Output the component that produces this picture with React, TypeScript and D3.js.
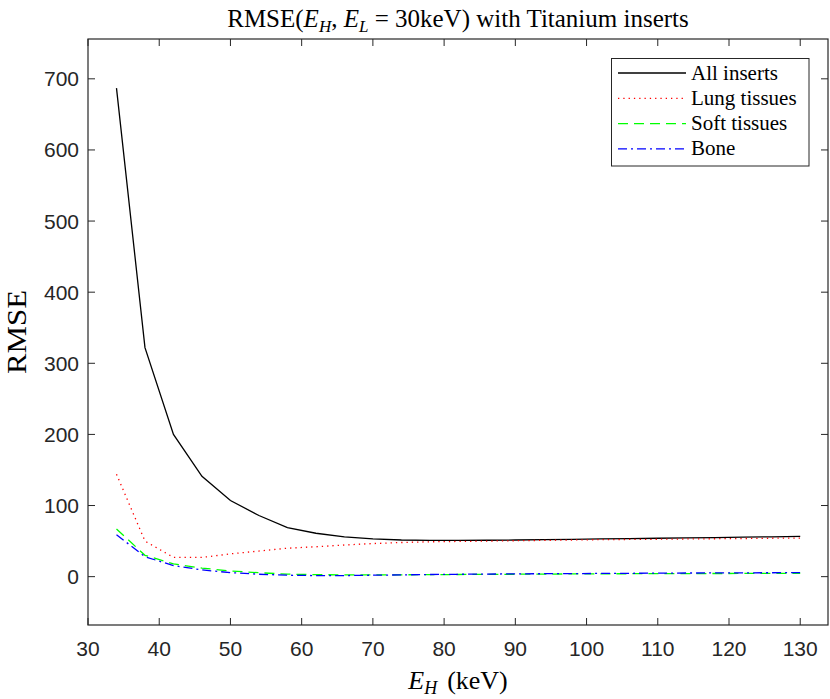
import * as d3 from "d3";

const energies = [34, 38, 42, 46, 50, 54, 58, 62, 66, 70, 74, 78, 82, 86, 90, 94, 98, 102, 106, 110, 114, 118, 122, 126, 130];
const allInserts = [687, 322, 200, 141, 107, 86, 69, 61, 56, 53, 51.5, 51, 51, 51.2, 51.5, 52, 52.5, 53, 53.5, 54, 54.5, 55, 55.5, 56, 56.5];
const lungTissues = [144, 50, 27, 27, 32, 36, 40, 42, 44.5, 46.5, 48, 49, 49.5, 50, 50.5, 51, 51.5, 52, 52.3, 52.6, 53, 53.3, 53.6, 54, 54.3];
const softTissues = [67, 30, 18, 12, 8, 5.5, 3.5, 2.8, 2.5, 2.5, 2.6, 2.8, 3, 3.2, 3.4, 3.6, 3.8, 4, 4.1, 4.2, 4.3, 4.4, 4.5, 4.6, 4.8];
const bone = [59, 28, 15.5, 9.5, 5.6, 3.4, 2, 1.5, 1.5, 2, 2.5, 3, 3.3, 3.6, 3.9, 4.1, 4.3, 4.5, 4.7, 4.9, 5.1, 5.2, 5.4, 5.5, 5.6];

const xTicks = [30, 40, 50, 60, 70, 80, 90, 100, 110, 120, 130];
const yTicks = [0, 100, 200, 300, 400, 500, 600, 700];

const series = [
  { name: "All inserts", values: allInserts, color: "#000000", dash: "none" },
  { name: "Lung tissues", values: lungTissues, color: "#ff0000", dash: "1.3,4" },
  { name: "Soft tissues", values: softTissues, color: "#00ff00", dash: "10,6" },
  { name: "Bone", values: bone, color: "#0000ff", dash: "9,4,2,4" },
];

const W = 830;
const H = 699;
const left = 88;
const right = 828;
const top = 39;
const bottom = 625;
const axisColor = "#262626";
const sans = "'Liberation Sans', Arial, sans-serif";
const serif = "'Liberation Serif', 'DejaVu Serif', serif";

export default function App() {
  const x = d3.scaleLinear().domain([30, 133.9]).range([left, right]);
  const y = d3.scaleLinear().domain([-68, 756]).range([bottom, top]);
  const line = d3
    .line<[number, number]>()
    .x((d) => x(d[0]))
    .y((d) => y(d[1]));
  const tick = 7;

  return (
    <svg
      width={W}
      height={H}
      viewBox={`0 0 ${W} ${H}`}
      style={{ position: "absolute", left: 0, top: 0, background: "#fff" }}
    >
      <rect x={0} y={0} width={W} height={H} fill="#fff" />
      {/* title */}
      <text x={(left + right) / 2} y={27} textAnchor="middle" fontFamily={serif} fontSize={25} fill="#000">
        RMSE(<tspan fontStyle="italic">E</tspan>
        <tspan fontStyle="italic" fontSize={17} dy={5}>H</tspan>
        <tspan dy={-5}>, </tspan>
        <tspan fontStyle="italic">E</tspan>
        <tspan fontStyle="italic" fontSize={17} dy={5}>L</tspan>
        <tspan dy={-5}> = 30keV) with Titanium inserts</tspan>
      </text>

      {/* series */}
      <defs>
        <clipPath id="clip">
          <rect x={left} y={top} width={right - left} height={bottom - top} />
        </clipPath>
      </defs>
      <g clipPath="url(#clip)">
        {series.map((s) => (
          <path
            key={s.name}
            d={line(energies.map((e, i) => [e, s.values[i]] as [number, number])) ?? ""}
            fill="none"
            stroke={s.color}
            strokeWidth={1.3}
            strokeDasharray={s.dash}
          />
        ))}
      </g>

      {/* axes box */}
      <rect x={left} y={top} width={right - left} height={bottom - top} fill="none" stroke={axisColor} strokeWidth={1.2} />
      {xTicks.map((t) => (
        <g key={`x${t}`}>
          <line x1={x(t)} x2={x(t)} y1={bottom} y2={bottom - tick} stroke={axisColor} strokeWidth={1} />
          <line x1={x(t)} x2={x(t)} y1={top} y2={top + tick} stroke={axisColor} strokeWidth={1} />
          <text x={x(t)} y={bottom + 31} textAnchor="middle" fontFamily={sans} fontSize={21} fill={axisColor}>
            {t}
          </text>
        </g>
      ))}
      {yTicks.map((t) => (
        <g key={`y${t}`}>
          <line x1={left} x2={left + tick} y1={y(t)} y2={y(t)} stroke={axisColor} strokeWidth={1} />
          <line x1={right} x2={right - tick} y1={y(t)} y2={y(t)} stroke={axisColor} strokeWidth={1} />
          <text x={left - 9} y={y(t) + 7.5} textAnchor="end" fontFamily={sans} fontSize={21} fill={axisColor}>
            {t}
          </text>
        </g>
      ))}

      {/* axis labels */}
      <text x={(left + right) / 2} y={689} textAnchor="middle" fontFamily={serif} fontSize={26} fill="#000">
        <tspan fontStyle="italic">E</tspan>
        <tspan fontStyle="italic" fontSize={18} dy={5}>H</tspan>
        <tspan dy={-5} dx={10}>(keV)</tspan>
      </text>
      <text
        transform={`translate(26,${(top + bottom) / 2}) rotate(-90)`}
        textAnchor="middle"
        fontFamily={serif}
        fontSize={27}
        textLength={84}
        lengthAdjust="spacingAndGlyphs"
        fill="#000"
      >
        RMSE
      </text>

      {/* legend */}
      <rect x={611.5} y={58.5} width={197.5} height={107.5} fill="#fff" stroke={axisColor} strokeWidth={1} />
      {series.map((s, i) => {
        const ly = 73 + i * 25.3;
        return (
          <g key={`l${s.name}`}>
            <line x1={618} x2={686} y1={ly} y2={ly} stroke={s.color} strokeWidth={1.3} strokeDasharray={s.dash} />
            <text x={691} y={ly + 6.5} fontFamily={serif} fontSize={21} fill="#000">
              {s.name}
            </text>
          </g>
        );
      })}
    </svg>
  );
}
